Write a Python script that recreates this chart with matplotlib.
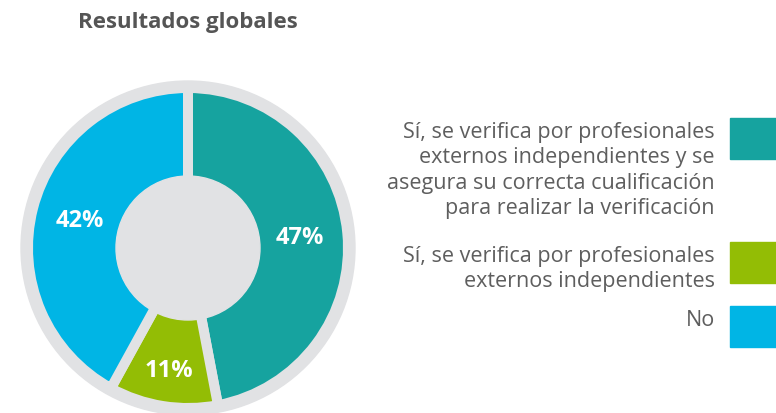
import numpy as np
import matplotlib
matplotlib.use('Agg')
import matplotlib.pyplot as plt
from matplotlib.patches import Circle, Rectangle

# datos del gráfico
categorias = ['Sí, se verifica por profesionales\nexternos independientes y se\nasegura su correcta cualificación\npara realizar la verificación',
              'Sí, se verifica por profesionales\nexternos independientes',
              'No']
valores = [47, 11, 42]
etiquetas = ['47%', '11%', '42%']
colores = ['#16a39f', '#93bd05', '#00b5e5']
titulo = 'Resultados globales'

gris = '#e1e2e4'
texto_gris = '#5e5e5e'

W, H = 776, 414
fig = plt.figure(figsize=(W / 100, H / 100), dpi=100)
ax = fig.add_axes([0, 0, 1, 1])

cx, cy = 188, H - 249

# disco gris de fondo
ax.add_patch(Circle((cx, cy), 167, color=gris, zorder=0))

wedges, _ = ax.pie(valores, colors=colores, startangle=90, counterclock=False,
                   radius=160, center=(cx, cy), frame=True,
                   wedgeprops=dict(edgecolor=gris, linewidth=7.2))
for w in wedges:
    w.set_zorder(1)

# agujero central
ax.add_patch(Circle((cx, cy), 72, color=gris, zorder=2))

# porcentajes
ang0 = 90
for v, lab in zip(valores, etiquetas):
    ang = ang0 - v * 3.6 / 2
    r = 124 if v < 20 else 112
    ax.text(cx + r * np.cos(np.radians(ang)), cy + r * np.sin(np.radians(ang)), lab,
            color='white', fontsize=17, fontweight='bold', family='Open Sans',
            ha='center', va='center', zorder=3)
    ang0 -= v * 3.6

# título
ax.text(188, H - 22, titulo, fontsize=16, fontweight='bold', family='Open Sans',
        color='#555555', ha='center', va='center')

# leyenda
tops = [119, 243, 307]
for cat, col, t in zip(categorias, colores, tops):
    ax.add_patch(Rectangle((730, H - t - 41), 60, 41, color=col, zorder=1))
    ax.text(715, H - t - 3, cat, fontsize=15.5, family='Open Sans',
            color=texto_gris, ha='right', va='top', linespacing=1.27, multialignment='right')

ax.set_xlim(0, W)
ax.set_ylim(0, H)
ax.set_aspect('equal')
ax.axis('off')

fig.savefig('out.png', dpi=100, facecolor='white')
